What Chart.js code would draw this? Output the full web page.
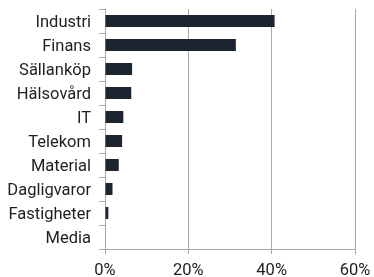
<!DOCTYPE html>
<html>
<head>
<meta charset="utf-8">
<script src="https://cdn.jsdelivr.net/npm/chart.js@4"></script>
<style>
html,body{margin:0;padding:0;background:#fff;}
#wrap{width:374px;height:277px;position:relative;}
</style>
</head>
<body>
<div id="wrap"><canvas id="c"></canvas></div>
<script>
const categories = ["Industri","Finans","Sällanköp","Hälsovård","IT","Telekom","Material","Dagligvaror","Fastigheter","Media"];
const values = [40.7, 31.4, 6.5, 6.3, 4.4, 4.1, 3.3, 1.8, 0.8, 0];
const xTicks = [0, 20, 40, 60];

new Chart(document.getElementById('c'), {
  type: 'bar',
  data: {
    labels: categories,
    datasets: [{
      data: values,
      backgroundColor: '#1c2331',
      borderWidth: 0,
      barPercentage: 0.5,
      categoryPercentage: 1.0
    }]
  },
  options: {
    indexAxis: 'y',
    responsive: true,
    maintainAspectRatio: false,
    animation: false,
    layout: { padding: { top: 9, right: 19, left: 0, bottom: 0 } },
    plugins: { legend: { display: false }, tooltip: { enabled: false } },
    scales: {
      x: {
        min: 0, max: 60,
        afterBuildTicks: (s) => { s.ticks = xTicks.map(v => ({ value: v })); },
        afterFit: (s) => { s.height = 28; s.paddingLeft = 0; s.paddingRight = 0; },
        grid: { color: '#a8a8a8', lineWidth: 1, tickLength: 5, drawTicks: true },
        border: { color: '#a8a8a8', width: 1 },
        ticks: {
          color: '#1e1e1e',
          font: { family: 'Roboto', size: 16.5 },
          padding: 7,
          maxRotation: 0,
          callback: (v) => v + '%'
        }
      },
      y: {
        afterFit: (s) => { s.width = 105; s.paddingTop = 0; s.paddingBottom = 0; },
        grid: { display: true, drawOnChartArea: false, offset: true, color: '#a8a8a8', tickLength: 6 },
        border: { color: '#a8a8a8', width: 1 },
        ticks: {
          color: '#1e1e1e',
          font: { family: 'Roboto', size: 16.5 },
          padding: 8,
          labelOffset: 1.5
        }
      }
    }
  }
});
</script>
</body>
</html>
